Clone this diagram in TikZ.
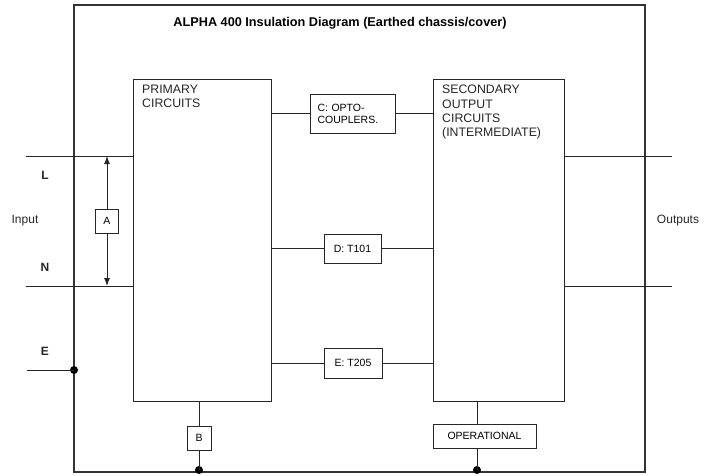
\documentclass[tikz,border=0pt]{standalone}
\usepackage{fontspec}
\setmainfont{Liberation Sans}
\usetikzlibrary{arrows.meta}
\begin{document}
\begin{tikzpicture}[x=1pt,y=-1pt,
  wire/.style={line width=0.9pt,draw=black!85},
  dblarrow/.style={wire,{Latex[length=8pt,width=6pt]}-{Latex[length=8pt,width=6pt]}},
  blk/.style={draw=black!85,line width=0.9pt,fill=white,inner sep=0pt,outer sep=0pt,rectangle},
  smallbox/.style={blk,font=\fontsize{10.5}{12}\selectfont,align=left},
  boxtext/.style={anchor=north west,inner sep=0pt,font=\fontsize{12.3}{14.3}\selectfont,align=left,text=black!85},
  lbl/.style={inner sep=0pt,font=\fontsize{12}{14}\selectfont,text=black!85},
  blbl/.style={inner sep=0pt,font=\bfseries\fontsize{12}{14}\selectfont,text=black!85},
  dot/.style={circle,fill=black,inner sep=0pt,minimum size=8pt}]
\useasboundingbox (0,0) rectangle (704,475);
% outer chassis
\node[draw=black!80,line width=1.4pt,inner sep=0pt,minimum width=571pt,minimum height=467pt] (outer) at (359.5,238.5) {};
\node[inner sep=0pt,font=\bfseries\fontsize{12.7}{15}\selectfont] (title) at (340,23) {ALPHA 400 Insulation Diagram (Earthed chassis/cover)};
% main blocks
\node[blk,minimum width=138pt,minimum height=322pt] (prim) at (202,240) {};
\node[boxtext] (primt) at (142,85) {PRIMARY\\CIRCUITS};
\node[blk,minimum width=131pt,minimum height=322pt] (sec) at (498.5,240) {};
\node[boxtext] (sect) at (442,85) {SECONDARY\\OUTPUT\\CIRCUITS\\(INTERMEDIATE)};
% barrier boxes
\node[smallbox,minimum width=85pt,minimum height=39pt,text width=70pt] (C) at (352.5,113.5) {C: OPTO-\\COUPLERS.};
\node[smallbox,minimum width=57pt,minimum height=29pt,align=center] (D) at (352.5,248.5) {D: T101};
\node[smallbox,minimum width=58pt,minimum height=30pt,align=center] (E) at (353,363) {E: T205};
\draw[wire] (C.west) -- (C.west -| prim.east);
\draw[wire] (C.east) -- (C.east -| sec.west);
\draw[wire] (D.west) -- (D.west -| prim.east);
\draw[wire] (D.east) -- (D.east -| sec.west);
\draw[wire] (E.west) -- (E.west -| prim.east);
\draw[wire] (E.east) -- (E.east -| sec.west);
% input side
\coordinate (Lin) at (26,156);
\coordinate (Nin) at (26,286);
\coordinate (Ein) at (27,370);
\draw[wire] (Lin) -- (Lin -| prim.west);
\draw[wire] (Nin) -- (Nin -| prim.west);
\coordinate (aT) at (107,156);
\coordinate (aB) at (107,286);
\draw[dblarrow] (aT) -- (aB);
\node[smallbox,minimum width=23pt,minimum height=24pt,align=center] (A) at (107,221) {A};
\node[blbl] (L) at (45,175) {L};
\node[blbl] (N) at (45,267) {N};
\node[blbl] (Elab) at (45,351) {E};
\node[lbl] (input) at (25,221) {Input};
\node[dot] (edot) at (74,370) {};
\draw[wire] (Ein) -- (edot.center);
% output side
\coordinate (O1) at (672,156);
\coordinate (O2) at (672,286);
\draw[wire] (O1 -| sec.east) -- (O1);
\draw[wire] (O2 -| sec.east) -- (O2);
\node[lbl] (outputs) at (678,221) {Outputs};
% bottom
\node[dot] (bdot) at (199,470) {};
\node[dot] (odot) at (477,470) {};
\draw[wire] (prim.south -| bdot) -- (bdot.center);
\node[smallbox,minimum width=24pt,minimum height=24pt,align=center] (B) at (199,438) {B};
\draw[wire] (sec.south -| odot) -- (odot.center);
\node[smallbox,minimum width=103pt,minimum height=24pt,align=center] (op) at (484.5,436) {OPERATIONAL};
\end{tikzpicture}
\end{document}
